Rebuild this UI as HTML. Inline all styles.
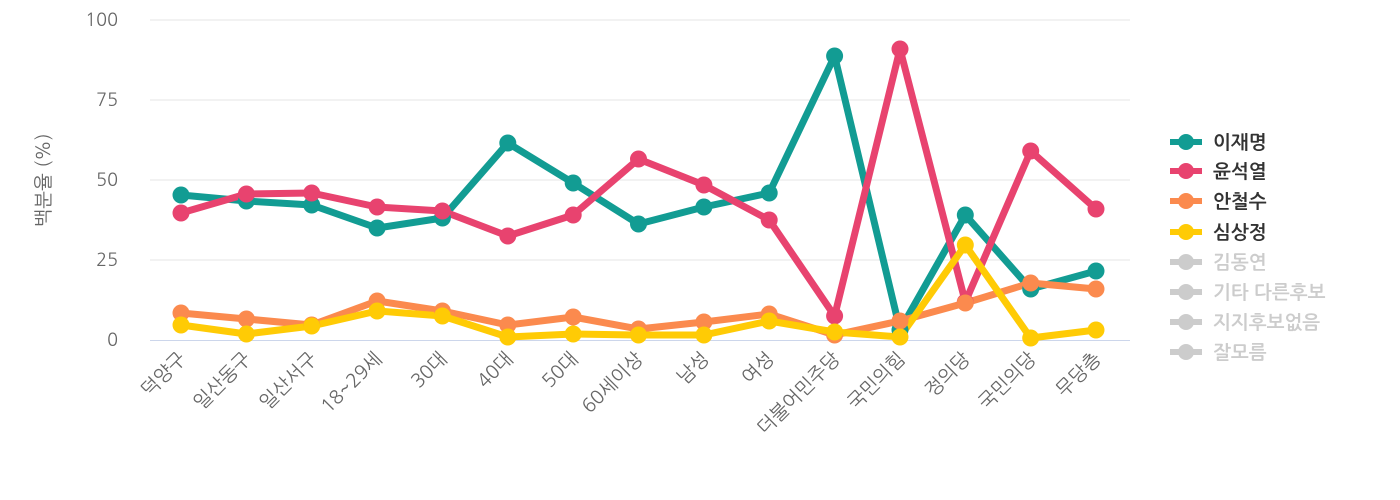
<!DOCTYPE html>
<html><head><meta charset="utf-8"><style>
body{margin:0;background:#fff}
svg{display:block;font-family:"NanumGothic","Liberation Sans","Noto Sans CJK KR",sans-serif}
</style></head><body>
<svg width="1400" height="500" viewBox="0 0 1400 500">
<g stroke="#e6e6e6" stroke-width="1">
<line x1="150" y1="20" x2="1130" y2="20"/><line x1="150" y1="100" x2="1130" y2="100"/><line x1="150" y1="180" x2="1130" y2="180"/><line x1="150" y1="260" x2="1130" y2="260"/>
</g>
<line x1="150" y1="340.5" x2="1130" y2="340.5" stroke="#ccd6eb" stroke-width="1"/>
<g fill="#666" font-size="18" text-anchor="end">
<text x="118" y="26">100</text><text x="118" y="106">75</text><text x="118" y="186">50</text><text x="118" y="266">25</text><text x="118" y="346">0</text>
</g>
<text transform="translate(50,180) rotate(-90)" text-anchor="middle" fill="#666" font-size="19">백분율 (%)</text>
<g fill="#666" font-size="19" text-anchor="end">
<text transform="translate(187,360) rotate(-45)">덕양구</text>
<text transform="translate(252,360) rotate(-45)">일산동구</text>
<text transform="translate(318,360) rotate(-45)">일산서구</text>
<text transform="translate(383,360) rotate(-45)">18~29세</text>
<text transform="translate(448,360) rotate(-45)">30대</text>
<text transform="translate(514,360) rotate(-45)">40대</text>
<text transform="translate(579,360) rotate(-45)">50대</text>
<text transform="translate(644,360) rotate(-45)">60세이상</text>
<text transform="translate(710,360) rotate(-45)">남성</text>
<text transform="translate(775,360) rotate(-45)">여성</text>
<text transform="translate(841,360) rotate(-45)">더불어민주당</text>
<text transform="translate(906,360) rotate(-45)">국민의힘</text>
<text transform="translate(971,360) rotate(-45)">정의당</text>
<text transform="translate(1037,360) rotate(-45)">국민의당</text>
<text transform="translate(1102,360) rotate(-45)">무당층</text>
</g>
<g fill="none" stroke-width="7" stroke-linejoin="round" stroke-linecap="round">
<polyline stroke="#129c93" points="181,195 246.4,201 311.7,205 377.1,228 442.4,218 507.8,143 573.2,183 638.5,224 703.9,207 769.2,193 834.6,56 900,330 965.3,215 1030.7,289 1096,271"/>
<polyline stroke="#e8436f" points="181,213 246.4,194 311.7,193 377.1,207 442.4,211 507.8,236 573.2,215 638.5,159 703.9,185 769.2,220 834.6,316 900,49 965.3,302 1030.7,151 1096,209"/>
<polyline stroke="#fb8a4e" points="181,313 246.4,319 311.7,325 377.1,301 442.4,311 507.8,325 573.2,317 638.5,329 703.9,322 769.2,314 834.6,335 900,321 965.3,303 1030.7,283 1096,289"/>
<polyline stroke="#ffcb05" points="181,325 246.4,334 311.7,326 377.1,311 442.4,316 507.8,337 573.2,334 638.5,335 703.9,335 769.2,321 834.6,332 900,337 965.3,245 1030.7,338 1096,330"/>
</g>
<g fill="#129c93">
<circle cx="181" cy="195" r="8.5"/><circle cx="246.4" cy="201" r="8.5"/><circle cx="311.7" cy="205" r="8.5"/><circle cx="377.1" cy="228" r="8.5"/><circle cx="442.4" cy="218" r="8.5"/><circle cx="507.8" cy="143" r="8.5"/><circle cx="573.2" cy="183" r="8.5"/><circle cx="638.5" cy="224" r="8.5"/><circle cx="703.9" cy="207" r="8.5"/><circle cx="769.2" cy="193" r="8.5"/><circle cx="834.6" cy="56" r="8.5"/><circle cx="900" cy="330" r="8.5"/><circle cx="965.3" cy="215" r="8.5"/><circle cx="1030.7" cy="289" r="8.5"/><circle cx="1096" cy="271" r="8.5"/>
</g>
<g fill="#e8436f">
<circle cx="181" cy="213" r="8.5"/><circle cx="246.4" cy="194" r="8.5"/><circle cx="311.7" cy="193" r="8.5"/><circle cx="377.1" cy="207" r="8.5"/><circle cx="442.4" cy="211" r="8.5"/><circle cx="507.8" cy="236" r="8.5"/><circle cx="573.2" cy="215" r="8.5"/><circle cx="638.5" cy="159" r="8.5"/><circle cx="703.9" cy="185" r="8.5"/><circle cx="769.2" cy="220" r="8.5"/><circle cx="834.6" cy="316" r="8.5"/><circle cx="900" cy="49" r="8.5"/><circle cx="965.3" cy="302" r="8.5"/><circle cx="1030.7" cy="151" r="8.5"/><circle cx="1096" cy="209" r="8.5"/>
</g>
<g fill="#fb8a4e">
<circle cx="181" cy="313" r="8.5"/><circle cx="246.4" cy="319" r="8.5"/><circle cx="311.7" cy="325" r="8.5"/><circle cx="377.1" cy="301" r="8.5"/><circle cx="442.4" cy="311" r="8.5"/><circle cx="507.8" cy="325" r="8.5"/><circle cx="573.2" cy="317" r="8.5"/><circle cx="638.5" cy="329" r="8.5"/><circle cx="703.9" cy="322" r="8.5"/><circle cx="769.2" cy="314" r="8.5"/><circle cx="834.6" cy="335" r="8.5"/><circle cx="900" cy="321" r="8.5"/><circle cx="965.3" cy="303" r="8.5"/><circle cx="1030.7" cy="283" r="8.5"/><circle cx="1096" cy="289" r="8.5"/>
</g>
<g fill="#ffcb05">
<circle cx="181" cy="325" r="8.5"/><circle cx="246.4" cy="334" r="8.5"/><circle cx="311.7" cy="326" r="8.5"/><circle cx="377.1" cy="311" r="8.5"/><circle cx="442.4" cy="316" r="8.5"/><circle cx="507.8" cy="337" r="8.5"/><circle cx="573.2" cy="334" r="8.5"/><circle cx="638.5" cy="335" r="8.5"/><circle cx="703.9" cy="335" r="8.5"/><circle cx="769.2" cy="321" r="8.5"/><circle cx="834.6" cy="332" r="8.5"/><circle cx="900" cy="337" r="8.5"/><circle cx="965.3" cy="245" r="8.5"/><circle cx="1030.7" cy="338" r="8.5"/><circle cx="1096" cy="330" r="8.5"/>
</g>
<g font-size="19" font-weight="bold">
<g stroke-width="6"><line x1="1170" y1="142" x2="1202" y2="142" stroke="#129c93"/><line x1="1170" y1="171" x2="1202" y2="171" stroke="#e8436f"/><line x1="1170" y1="201" x2="1202" y2="201" stroke="#fb8a4e"/><line x1="1170" y1="232" x2="1202" y2="232" stroke="#ffcb05"/>
<line x1="1170" y1="262" x2="1202" y2="262" stroke="#ccc"/><line x1="1170" y1="292" x2="1202" y2="292" stroke="#ccc"/><line x1="1170" y1="322" x2="1202" y2="322" stroke="#ccc"/><line x1="1170" y1="352" x2="1202" y2="352" stroke="#ccc"/></g>
<circle cx="1186" cy="142" r="8" fill="#129c93"/><circle cx="1186" cy="171" r="8" fill="#e8436f"/><circle cx="1186" cy="201" r="8" fill="#fb8a4e"/><circle cx="1186" cy="232" r="8" fill="#ffcb05"/>
<circle cx="1186" cy="262" r="8" fill="#ccc"/><circle cx="1186" cy="292" r="8" fill="#ccc"/><circle cx="1186" cy="322" r="8" fill="#ccc"/><circle cx="1186" cy="352" r="8" fill="#ccc"/>
<text x="1213" y="149" fill="#333">이재명</text><text x="1213" y="178" fill="#333">윤석열</text><text x="1213" y="208" fill="#333">안철수</text><text x="1213" y="239" fill="#333">심상정</text>
<text x="1213" y="269" fill="#ccc">김동연</text><text x="1213" y="299" fill="#ccc">기타 다른후보</text><text x="1213" y="329" fill="#ccc">지지후보없음</text><text x="1213" y="359" fill="#ccc">잘모름</text>
</g>
</svg>
</body></html>
